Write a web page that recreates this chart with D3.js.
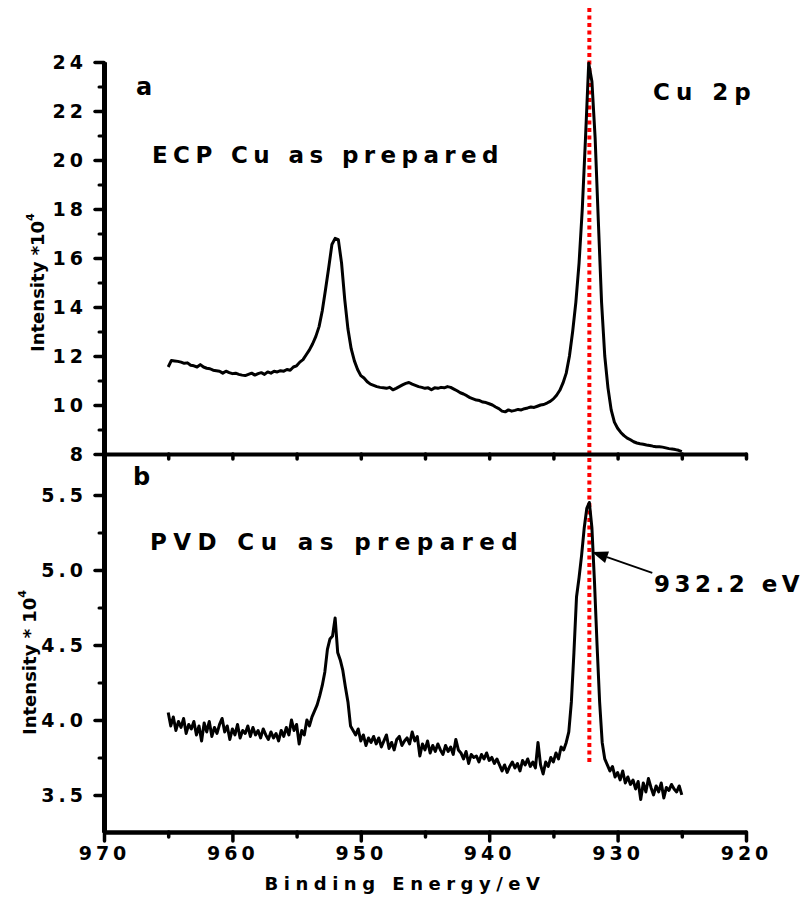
<!DOCTYPE html>
<html>
<head>
<meta charset="utf-8">
<script src="https://cdn.jsdelivr.net/npm/d3@7"></script>
<style>
  body { margin: 0; background: #fff; }
  svg text { font-family: "DejaVu Sans", Verdana, sans-serif; font-weight: bold; fill: #000; }
</style>
</head>
<body>
<div id="chart"></div>
<script>
// Cu 2p spectra, binding energy grid starts at 965 eV and goes down
const ecpStart = 965, ecpStep = 0.25;
const ecpIntensity = [
  11.55, 11.82, 11.80, 11.78, 11.75, 11.70, 11.72, 11.62, 11.60, 11.55,
  11.65, 11.55, 11.50, 11.48, 11.42, 11.40, 11.38, 11.30, 11.38, 11.32,
  11.28, 11.30, 11.25, 11.22, 11.20, 11.25, 11.30, 11.22, 11.28, 11.32,
  11.25, 11.35, 11.30, 11.38, 11.35, 11.40, 11.38, 11.45, 11.42, 11.55,
  11.60, 11.75, 11.85, 12.05, 12.25, 12.50, 12.80, 13.20, 13.85, 14.70,
  15.60, 16.55, 16.80, 16.75, 15.80, 14.30, 13.10, 12.30, 11.80, 11.45,
  11.20, 11.10, 10.95, 10.85, 10.80, 10.75, 10.72, 10.70, 10.68, 10.72,
  10.62, 10.68, 10.75, 10.82, 10.88, 10.92, 10.85, 10.80, 10.75, 10.72,
  10.68, 10.70, 10.62, 10.70, 10.68, 10.72, 10.70, 10.75, 10.72, 10.65,
  10.58, 10.50, 10.45, 10.38, 10.30, 10.25, 10.20, 10.18, 10.12, 10.10,
  10.05, 10.00, 9.92, 9.85, 9.75, 9.72, 9.80, 9.75, 9.78, 9.82,
  9.80, 9.85, 9.88, 9.92, 9.90, 9.95, 10.00, 10.02, 10.08, 10.15,
  10.25, 10.40, 10.60, 10.90, 11.30, 12.00, 13.00, 14.20, 15.80, 18.00,
  20.90, 23.95, 23.20, 20.90, 17.50, 14.20, 12.00, 10.70, 9.80, 9.30,
  9.05, 8.88, 8.75, 8.65, 8.58, 8.50, 8.45, 8.42, 8.40, 8.37,
  8.35, 8.32, 8.30, 8.30, 8.28, 8.25, 8.22, 8.20, 8.18, 8.15,
  8.10
];
const pvdStart = 965, pvdStep = 0.2;
const pvdIntensity = [
  4.05, 3.96, 4.02, 3.93, 3.99, 3.95, 4.01, 3.91, 3.97, 3.94,
  3.99, 3.90, 3.96, 3.86, 3.98, 3.92, 3.99, 3.89, 3.95, 3.91,
  3.97, 4.01, 3.92, 3.96, 3.87, 3.94, 3.90, 3.97, 3.88, 3.93,
  3.91, 3.96, 3.89, 3.95, 3.90, 3.93, 3.88, 3.94, 3.90, 3.87,
  3.92, 3.88, 3.91, 3.86, 3.93, 3.89, 3.95, 3.90, 4.00, 3.93,
  3.97, 3.84, 3.93, 3.90, 4.00, 3.96, 4.02, 4.06, 4.10, 4.16,
  4.23, 4.32, 4.47, 4.54, 4.56, 4.68, 4.45, 4.40, 4.33, 4.22,
  4.12, 3.96, 3.93, 3.90, 3.94, 3.86, 3.90, 3.83, 3.88, 3.85,
  3.89, 3.84, 3.88, 3.82, 3.86, 3.90, 3.81, 3.85, 3.80, 3.87,
  3.89, 3.83, 3.86, 3.88, 3.84, 3.92, 3.86, 3.89, 3.76, 3.84,
  3.80, 3.86, 3.78, 3.83, 3.79, 3.84, 3.80, 3.77, 3.83, 3.79,
  3.82, 3.77, 3.87, 3.80, 3.78, 3.74, 3.79, 3.71, 3.77, 3.75,
  3.76, 3.72, 3.77, 3.74, 3.78, 3.73, 3.75, 3.71, 3.74, 3.70,
  3.66, 3.70, 3.65, 3.69, 3.72, 3.68, 3.71, 3.66, 3.73, 3.70,
  3.74, 3.69, 3.72, 3.68, 3.85, 3.70, 3.64, 3.72, 3.69, 3.75,
  3.72, 3.78, 3.74, 3.82, 3.80, 3.85, 3.92, 4.12, 4.45, 4.82,
  4.95, 5.10, 5.28, 5.41, 5.45, 5.28, 4.92, 4.50, 4.12, 3.85,
  3.74, 3.70, 3.66, 3.69, 3.62, 3.65, 3.60, 3.66, 3.58, 3.62,
  3.57, 3.60, 3.54, 3.59, 3.47, 3.58, 3.52, 3.61, 3.55, 3.50,
  3.56, 3.52, 3.58, 3.48, 3.55, 3.53, 3.57, 3.54, 3.52, 3.56,
  3.50
];

const energyTicks = [970, 960, 950, 940, 930, 920];
const energyMinorTicks = [965, 955, 945, 935, 925];
const ecpTicks = [8, 10, 12, 14, 16, 18, 20, 22, 24];
const ecpMinorTicks = [9, 11, 13, 15, 17, 19, 21, 23];
const pvdTicks = [3.5, 4.0, 4.5, 5.0, 5.5];
const pvdMinorTicks = [3.75, 4.25, 4.75, 5.25];
const peakEnergy = 932.2;
const peakLabel = '932.2 eV';

const width = 810, height = 897;

const svg = d3.select('#chart')
    .append('svg')
    .attr('width', width)
    .attr('height', height)
    .style('background', '#fff');

const x = d3.scaleLinear().domain([970, 920]).range([104, 746]);
const yTop = d3.scaleLinear().domain([8, 24]).range([454, 62]);
const yBot = d3.scaleLinear().domain([3.253, 5.773]).range([832, 454]);

// reference line at the metallic Cu peak, under the curves
svg.append('line')
    .attr('x1', x(peakEnergy)).attr('x2', x(peakEnergy))
    .attr('y1', 8).attr('y2', yBot(3.7))
    .attr('stroke', '#ff0000')
    .attr('stroke-width', 4)
    .attr('stroke-dasharray', '4,3.5');

function styleAxis(g, lineWidth, tickWidth) {
    g.attr('font-size', null).attr('font-family', null);
    g.select('.domain').attr('stroke', '#000').attr('stroke-width', lineWidth);
    g.selectAll('.tick line').attr('stroke', '#000').attr('stroke-width', tickWidth)
        .attr('stroke-linecap', 'round');
    g.selectAll('.tick text')
        .style('font-size', '19px')
        .style('letter-spacing', '4px');
}

function drawYAxis(scale, ticks, minor, fmt) {
    const gMinor = svg.append('g').attr('transform', 'translate(104,0)')
        .call(d3.axisLeft(scale).tickValues(minor).tickSize(5).tickSizeOuter(0).tickFormat(''));
    styleAxis(gMinor, 5, 3);
    const g = svg.append('g').attr('transform', 'translate(104,0)')
        .call(d3.axisLeft(scale).tickValues(ticks).tickSize(9).tickPadding(8).tickSizeOuter(0).tickFormat(fmt));
    styleAxis(g, 5, 3.5);
}

drawYAxis(yTop, ecpTicks, ecpMinorTicks, d3.format('d'));
drawYAxis(yBot, pvdTicks, pvdMinorTicks, d3.format('.1f'));

// x axis between the panels: short ticks, no labels
const gMid = svg.append('g').attr('transform', `translate(0,${yTop(8)})`)
    .call(d3.axisBottom(x).tickValues(energyTicks.concat(energyMinorTicks)).tickSize(5).tickSizeOuter(0).tickFormat(''));
styleAxis(gMid, 4, 3.5);

const gMinorX = svg.append('g').attr('transform', `translate(0,${yBot.range()[0]})`)
    .call(d3.axisBottom(x).tickValues(energyMinorTicks).tickSize(5).tickSizeOuter(0).tickFormat(''));
styleAxis(gMinorX, 4, 3.5);
const gX = svg.append('g').attr('transform', `translate(0,${yBot.range()[0]})`)
    .call(d3.axisBottom(x).tickValues(energyTicks).tickSize(9).tickPadding(6).tickSizeOuter(0).tickFormat(d3.format('d')));
styleAxis(gX, 4, 3.5);

// spectra
const ecpLine = d3.line()
    .x((d, i) => x(ecpStart - i * ecpStep))
    .y(d => yTop(d));
const pvdLine = d3.line()
    .x((d, i) => x(pvdStart - i * pvdStep))
    .y(d => yBot(d));

svg.append('path')
    .datum(ecpIntensity)
    .attr('d', ecpLine)
    .attr('fill', 'none')
    .attr('stroke', '#000')
    .attr('stroke-width', 3)
    .attr('stroke-linejoin', 'round');

svg.append('path')
    .datum(pvdIntensity)
    .attr('d', pvdLine)
    .attr('fill', 'none')
    .attr('stroke', '#000')
    .attr('stroke-width', 3)
    .attr('stroke-linejoin', 'round');

// axis titles
const titleTop = svg.append('text')
    .attr('transform', 'translate(44,352) rotate(-90)')
    .style('font-size', '18px');
titleTop.append('tspan').text('Intensity *10');
titleTop.append('tspan').attr('dy', -10).style('font-size', '11px').text('4');

const titleBot = svg.append('text')
    .attr('transform', 'translate(36,735) rotate(-90)')
    .style('font-size', '18px');
titleBot.append('tspan').text('Intensity * 10');
titleBot.append('tspan').attr('dy', -10).style('font-size', '11px').text('4');

svg.append('text')
    .attr('x', 405).attr('y', 890)
    .attr('text-anchor', 'middle')
    .style('font-size', '18px')
    .style('letter-spacing', '5.5px')
    .text('Binding Energy/eV');

// panel texts
const labels = [
    { t: 'a', x: 136, y: 95, size: 24, ls: 0 },
    { t: 'b', x: 133, y: 485, size: 24, ls: 0 },
    { t: 'ECP Cu as prepared', x: 152, y: 163, size: 23, ls: 5.4 },
    { t: 'PVD Cu as prepared', x: 150, y: 550, size: 23, ls: 6.4 },
    { t: 'Cu 2p', x: 653, y: 100, size: 23, ls: 6 },
    { t: peakLabel, x: 654, y: 592, size: 23, ls: 4.5 }
];
svg.selectAll('text.lbl')
    .data(labels)
    .enter()
    .append('text')
    .attr('class', 'lbl')
    .attr('x', d => d.x)
    .attr('y', d => d.y)
    .style('font-size', d => d.size + 'px')
    .style('letter-spacing', d => d.ls + 'px')
    .text(d => d.t);

// arrow pointing at the PVD peak
const tail = [x(927.3), yBot(4.98)];
const tip = [x(932.0), yBot(5.12)];
const ang = Math.atan2(tip[1] - tail[1], tip[0] - tail[0]);
const headLen = 16, headHalf = 6;
const base = [tip[0] - headLen * Math.cos(ang), tip[1] - headLen * Math.sin(ang)];
svg.append('line')
    .attr('x1', tail[0]).attr('y1', tail[1])
    .attr('x2', base[0]).attr('y2', base[1])
    .attr('stroke', '#000')
    .attr('stroke-width', 1.8);
svg.append('polygon')
    .attr('points', [
        tip,
        [base[0] + headHalf * Math.sin(ang), base[1] - headHalf * Math.cos(ang)],
        [base[0] - headHalf * Math.sin(ang), base[1] + headHalf * Math.cos(ang)]
    ].map(p => p.join(',')).join(' '))
    .attr('fill', '#000');
</script>
</body>
</html>
